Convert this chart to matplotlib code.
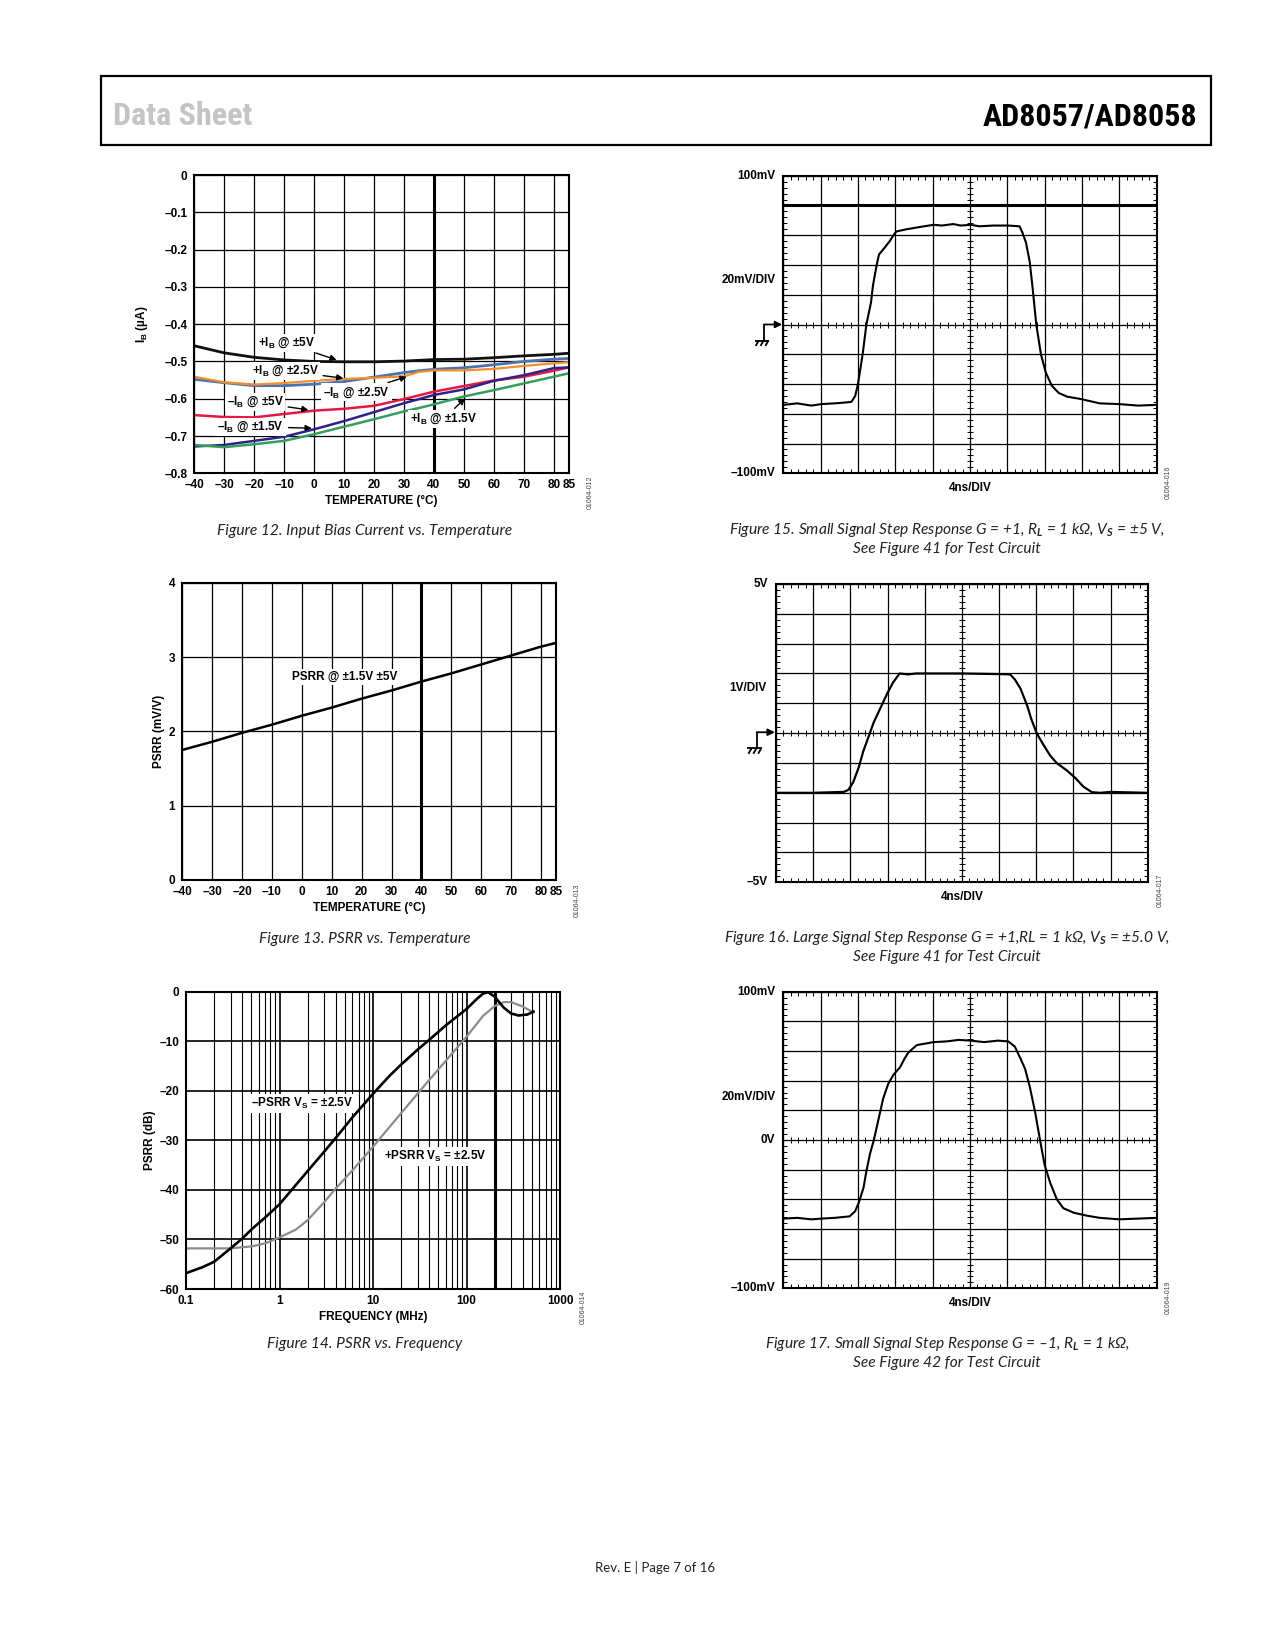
import numpy as np
import matplotlib
matplotlib.use("Agg")
import matplotlib.pyplot as plt
from matplotlib.ticker import LogLocator, NullFormatter, FixedLocator
from matplotlib.patches import Rectangle

plt.rcParams['font.family'] = ['Liberation Sans', 'DejaVu Sans']
plt.rcParams['font.weight'] = 'bold'
plt.rcParams['axes.labelweight'] = 'bold'
plt.rcParams['mathtext.fontset'] = 'custom'
plt.rcParams['mathtext.rm'] = 'Liberation Sans:bold'
plt.rcParams['mathtext.bf'] = 'Liberation Sans:bold'
plt.rcParams['mathtext.it'] = 'Lato:italic'
plt.rcParams['mathtext.default'] = 'rm'

# ---------------- DATA ----------------
# Figure 12: Input bias current vs temperature
temp12 = [-40, -30, -20, -10, 0, 10, 20, 30, 35, 40, 50, 60, 70, 80, 85]
ib_plus_5 = [-0.458, -0.477, -0.489, -0.496, -0.500, -0.501, -0.501, -0.499, -0.497, -0.495, -0.494, -0.490, -0.485, -0.481, -0.478]
ib_blue_25 = [-0.548, -0.557, -0.565, -0.565, -0.561, -0.554, -0.542, -0.530, -0.525, -0.521, -0.517, -0.509, -0.500, -0.494, -0.492]
ib_orange_25 = [-0.541, -0.556, -0.562, -0.558, -0.552, -0.547, -0.544, -0.540, -0.528, -0.524, -0.524, -0.520, -0.512, -0.505, -0.502]
ib_minus_5 = [-0.644, -0.649, -0.650, -0.641, -0.632, -0.627, -0.619, -0.601, -0.591, -0.581, -0.566, -0.551, -0.541, -0.525, -0.516]
ib_minus_15 = [-0.728, -0.724, -0.713, -0.702, -0.682, -0.660, -0.636, -0.612, -0.601, -0.590, -0.575, -0.552, -0.537, -0.518, -0.516]
ib_plus_15 = [-0.724, -0.730, -0.722, -0.713, -0.695, -0.675, -0.655, -0.634, -0.625, -0.615, -0.594, -0.577, -0.559, -0.541, -0.532]
temp_ticks = [-40, -30, -20, -10, 0, 10, 20, 30, 40, 50, 60, 70, 80, 85]
temp_ticklabels = ['–40', '–30', '–20', '–10', '0', '10', '20', '30', '40', '50', '60', '70', '80', '85']
ib_ticks = [0, -0.1, -0.2, -0.3, -0.4, -0.5, -0.6, -0.7, -0.8]
ib_ticklabels = ['0', '–0.1', '–0.2', '–0.3', '–0.4', '–0.5', '–0.6', '–0.7', '–0.8']
ann12_text = ['+I$_B$ @ ±5V', '+I$_B$ @ ±2.5V', '–I$_B$ @ ±2.5V', '–I$_B$ @ ±5V', '–I$_B$ @ ±1.5V', '+I$_B$ @ ±1.5V']

# Figure 13: PSRR vs temperature
temp13 = [-40, -30, -20, -10, 0, 10, 20, 30, 40, 50, 60, 70, 80, 85]
psrr13 = [1.75, 1.86, 1.98, 2.09, 2.21, 2.32, 2.44, 2.55, 2.67, 2.78, 2.90, 3.02, 3.14, 3.19]
psrr13_ticks = [0, 1, 2, 3, 4]

# Figure 14: PSRR vs frequency
freq_neg = [0.1, 0.15, 0.2, 0.3, 0.4, 0.5, 0.7, 1, 2, 3, 4, 6, 10, 15, 20, 30, 40, 60, 100, 130, 150, 170, 200, 250, 300, 360, 450, 520]
psrr_neg = [-56.8, -55.6, -54.5, -51.8, -49.8, -48.0, -45.6, -42.9, -36.2, -32.3, -29.5, -25.4, -20.6, -17.0, -14.7, -11.7, -9.7, -6.8, -3.5, -1.4, -0.4, -0.1, -1.0, -3.2, -4.4, -4.8, -4.6, -4.0]
freq_pos = [0.1, 0.2, 0.3, 0.5, 0.7, 1, 1.5, 2, 3, 4, 6, 10, 20, 40, 100, 150, 200, 250, 300, 400, 520]
psrr_pos = [-51.8, -51.8, -51.8, -51.4, -50.8, -49.6, -48.0, -46.1, -42.5, -39.7, -36.1, -31.3, -24.5, -17.8, -9.1, -4.9, -2.9, -2.1, -2.1, -3.0, -4.2]
freq_ticks = [0.1, 1, 10, 100, 1000]
freq_ticklabels = ['0.1', '1', '10', '100', '1000']
db_ticks = [0, -10, -20, -30, -40, -50, -60]
db_ticklabels = ['0', '–10', '–20', '–30', '–40', '–50', '–60']

# Figure 15: small signal step, G=+1 (ns, mV)
t15 = [0, 1.5, 3, 4.1, 5.5, 6.5, 7.3, 7.7, 8.0, 8.5, 8.9, 9.4, 9.6, 10.0, 10.25, 10.9, 11.4, 11.8, 12.1, 13.2, 14.6, 16.1,
       17.0, 18.2, 19.0, 20.1, 21.0, 22.5, 24.1, 25.3, 25.6, 26.0, 26.4, 26.7, 27.1, 27.6, 28.1, 28.75, 29.5, 30.4, 31.8,
       33.9, 36.0, 38.0, 40.0]
v15 = [-54, -53, -54.5, -53.5, -53, -52.5, -52, -48, -40, -20, 0, 15, 26, 40, 47, 52, 56, 60, 62.5, 64, 65.5, 67,
       66.5, 67.5, 66.5, 67, 66, 66.5, 66.5, 66, 62, 55, 42, 25, 0, -20, -32, -41, -46, -48.5, -50,
       -53, -53.5, -54.5, -54]

# Figure 16: large signal step (ns, V)
t16 = [0, 3.95, 7.3, 7.8, 8.3, 8.9, 9.4, 10.1, 10.5, 11.4, 12.0, 12.6, 13.3, 14.2, 15.1, 20.05, 24.0, 25.2, 25.7,
       26.3, 27.0, 27.5, 28.05, 28.8, 29.5, 30.2, 31.3, 32.2, 33.1, 34.0, 34.9, 36.0, 40.0]
v16 = [-2.0, -2.0, -1.97, -1.9, -1.65, -1.15, -0.6, 0.0, 0.35, 0.95, 1.35, 1.7, 2.0, 1.97, 2.0, 2.0, 1.98, 1.97, 1.8,
       1.5, 0.95, 0.45, 0.0, -0.4, -0.75, -1.0, -1.25, -1.5, -1.8, -1.98, -2.0, -1.97, -2.0]

# Figure 17: small signal step, G=-1 (ns, mV)
t17 = [0, 1.5, 3, 4.1, 5.5, 7.1, 7.7, 8.1, 8.6, 8.9, 9.3, 9.7, 10.2, 10.7, 11.25, 11.8, 12.5, 13.0, 13.4, 14.3, 16.1,
       17.5, 18.8, 20.1, 21.5, 23.0, 24.1, 24.8, 25.4, 25.9, 26.4, 27.0, 27.5, 28.0, 28.6, 29.3, 30.0, 31.1, 32.5, 33.9,
       36.0, 38.0, 40.0]
v17 = [-53, -52.5, -53.5, -53, -52.5, -51.5, -48, -42, -32, -21, -9, 0, 14, 28, 38, 44, 49, 55, 59, 64, 66,
       66.5, 67.5, 67, 66, 67, 66.5, 63, 55, 48, 36, 18, 0, -17, -29, -40, -46, -49, -51, -52.5,
       -53.5, -53, -52.5]

# ---------------- FIGURE ----------------
W, H = 1275, 1650
fig = plt.figure(figsize=(W / 100, H / 100), dpi=100)


def fx(px):
    return px / W


def fy(py):
    return 1 - py / H


def add_axes(x0, y0, x1, y1):
    return fig.add_axes([fx(x0), fy(y1), fx(x1 - x0), (y1 - y0) / H])


TICKFS = 8.5
GRID_LW = 0.9


def frame(ax):
    for s in ax.spines.values():
        s.set_linewidth(1.5)
        s.set_color('k')
        s.set_zorder(5)


# header
fig.patches.append(Rectangle((fx(100.7), fy(145)), fx(1211 - 100.7), 69 / H, transform=fig.transFigure,
                             fill=False, lw=1.6, ec='k'))
HEADFONT = dict(family=['Roboto Condensed', 'Liberation Sans Narrow', 'DejaVu Sans'], fontstretch='condensed',
                fontweight='bold', fontsize=23, va='baseline')
fig.text(fx(113), fy(125), 'Data Sheet', color='#c4c4c4', ha='left', **HEADFONT)
fig.text(fx(1197), fy(125), 'AD8057/AD8058', color='k', ha='right', **HEADFONT)

CAPFONT = dict(family=['Lato', 'DejaVu Sans'], style='italic', fontweight='normal', fontsize=11.2, color='#222222')


def caption(x, y, s):
    fig.text(fx(x), fy(y), s, ha='center', va='center', **CAPFONT)


def code(x, y, s):
    fig.text(fx(x), fy(y), s, rotation=90, fontsize=5, fontweight='normal', color='#444444', ha='center', va='center')


LABEL_BOX = dict(boxstyle='square,pad=0.15', fc='white', ec='none')

# ---------- Figure 12 ----------
ax = add_axes(194.3, 175, 568.7, 473.3)
ax.set_xlim(-40, 85)
ax.set_ylim(-0.8, 0)
ax.set_xticks(temp_ticks)
ax.set_xticklabels(temp_ticklabels)
ax.set_yticks(ib_ticks)
ax.set_yticklabels(ib_ticklabels)
ax.grid(True, color='k', lw=GRID_LW)
ax.axvline(40, color='k', lw=2.2, zorder=1)
ax.tick_params(length=0, labelsize=TICKFS, pad=5)
ax.tick_params(axis='x', pad=4)
frame(ax)
ax.plot(temp12, ib_plus_5, color='#111111', lw=2.0, zorder=3)
ax.plot(temp12, ib_blue_25, color='#4c72b0', lw=2.0, zorder=3)
ax.plot(temp12, ib_orange_25, color='#f28e2b', lw=1.6, zorder=3)
ax.plot(temp12, ib_minus_5, color='#e8173f', lw=1.8, zorder=3)
ax.plot(temp12, ib_minus_15, color='#33218a', lw=1.8, zorder=3)
ax.plot(temp12, ib_plus_15, color='#339e5c', lw=1.8, zorder=3)
ann12_xytext = [(-9.2, -0.451), (-9.7, -0.525), (14.2, -0.583), (-19.7, -0.609), (-21.2, -0.675), (43.1, -0.655)]
ann12_xy = [(7.5, -0.496), (9.75, -0.545), (30.9, -0.541), (-1.9, -0.630), (-0.8, -0.679), (50.4, -0.599)]
for s, xt, xy in zip(ann12_text, ann12_xytext, ann12_xy):
    ax.annotate(s, xy=xy, xytext=xt, ha='center', va='center', fontsize=TICKFS, zorder=6, bbox=LABEL_BOX,
                arrowprops=dict(arrowstyle='-|>', color='k', lw=1.0, mutation_scale=9, shrinkA=2, shrinkB=0))
ax.set_xlabel('TEMPERATURE (°C)', fontsize=TICKFS, labelpad=3)
ax.set_ylabel('I$_B$ (µA)', fontsize=TICKFS, labelpad=10)
caption(365, 531, 'Figure 12. Input Bias Current vs. Temperature')
code(590, 492, '01064-012')

# ---------- Figure 13 ----------
ax = add_axes(182.3, 582.7, 556, 880)
ax.set_xlim(-40, 85)
ax.set_ylim(0, 4)
ax.set_xticks(temp_ticks)
ax.set_xticklabels(temp_ticklabels)
ax.set_yticks(psrr13_ticks)
ax.grid(True, color='k', lw=GRID_LW)
ax.axvline(40, color='k', lw=2.2, zorder=1)
ax.tick_params(length=0, labelsize=TICKFS, pad=5)
ax.tick_params(axis='x', pad=4)
frame(ax)
ax.plot(temp13, psrr13, color='k', lw=1.8, zorder=3)
ax.text(14.4, 2.73, 'PSRR @ ±1.5V ±5V', ha='center', va='center', fontsize=TICKFS, zorder=6, bbox=LABEL_BOX)
ax.set_xlabel('TEMPERATURE (°C)', fontsize=TICKFS, labelpad=3)
ax.set_ylabel('PSRR (mV/V)', fontsize=TICKFS, labelpad=3)
caption(365, 939, 'Figure 13. PSRR vs. Temperature')
code(577, 900, '01064-013')

# ---------- Figure 14 ----------
ax = add_axes(186, 991.7, 560, 1289)
ax.set_xscale('log')
ax.set_xlim(0.1, 1000)
ax.set_ylim(-60, 0)
ax.xaxis.set_major_locator(FixedLocator(freq_ticks))
ax.set_xticklabels(freq_ticklabels)
ax.xaxis.set_minor_locator(LogLocator(base=10, subs=np.arange(2, 10)))
ax.xaxis.set_minor_formatter(NullFormatter())
ax.set_yticks(db_ticks)
ax.set_yticklabels(db_ticklabels)
ax.grid(True, which='minor', axis='x', color='k', lw=0.8)
ax.grid(True, which='major', color='k', lw=1.2)
ax.axvline(200, color='k', lw=2.2, zorder=1)
ax.tick_params(which='both', length=0, labelsize=TICKFS, pad=5)
ax.tick_params(axis='x', pad=4)
frame(ax)
ax.plot(freq_pos, psrr_pos, color='#8c8c8c', lw=1.6, zorder=3)
ax.plot(freq_neg, psrr_neg, color='k', lw=1.9, zorder=4)
ax.text(1.73, -22.5, '–PSRR V$_S$ = ±2.5V', ha='center', va='center', fontsize=TICKFS, zorder=6, bbox=LABEL_BOX)
ax.text(46, -33.3, '+PSRR V$_S$ = ±2.5V', ha='center', va='center', fontsize=TICKFS, zorder=6, bbox=LABEL_BOX)
ax.set_xlabel('FREQUENCY (MHz)', fontsize=TICKFS, labelpad=3)
ax.set_ylabel('PSRR (dB)', fontsize=TICKFS, labelpad=2)
caption(365, 1344, 'Figure 14. PSRR vs. Frequency')
code(583, 1307, '01064-014')


# ---------- scope helpers ----------
def scope(ax, ylo, yhi):
    ax.set_xlim(0, 40)
    ax.set_ylim(ylo, yhi)
    ax.set_xticks(np.arange(0, 40.01, 4))
    ax.set_yticks(np.linspace(ylo, yhi, 11))
    ax.set_xticks(np.arange(0, 40.01, 0.8), minor=True)
    ax.set_yticks(np.linspace(ylo, yhi, 51), minor=True)
    ax.grid(True, which='major', color='k', lw=GRID_LW)
    ax.tick_params(which='major', length=0, labelleft=False, labelbottom=False)
    ax.tick_params(which='minor', direction='in', length=3, width=0.7, top=True, right=True,
                   labelleft=False, labelbottom=False)
    frame(ax)
    ym = np.linspace(ylo, yhi, 51)
    xm = np.arange(0, 40.01, 0.8)
    ax.plot(np.full(len(ym), 20.0), ym, ls='none', marker='_', ms=4, mew=0.7, color='k', zorder=2)
    ax.plot(xm, np.full(len(xm), (ylo + yhi) / 2), ls='none', marker='|', ms=4, mew=0.7, color='k', zorder=2)


def ax_label(ax, x, y, s, ha='right'):
    ax.text(x, y, s, transform=ax.transAxes, ha=ha, va='center', fontsize=TICKFS, fontweight='bold', clip_on=False)


def ground(ax, y0):
    kw = dict(transform=ax.transAxes, color='k', lw=1.3, clip_on=False, solid_capstyle='butt')
    ax.annotate('', xy=(-0.003, y0), xytext=(-0.052, y0), xycoords='axes fraction',
                arrowprops=dict(arrowstyle='-|>', color='k', lw=1.3, mutation_scale=10, shrinkA=0, shrinkB=0),
                annotation_clip=False)
    yb = y0 - 0.054
    ax.plot([-0.051, -0.051], [y0, yb], **kw)
    ax.plot([-0.077, -0.037], [yb, yb], **kw)
    for xx in (-0.066, -0.053, -0.040):
        ax.plot([xx, xx - 0.008], [yb, yb - 0.018], **kw)


# ---------- Figure 15 ----------
ax = add_axes(783.3, 175.7, 1156.7, 473.3)
scope(ax, -100, 100)
ax.axhline(80, color='k', lw=2.2, zorder=2)
ax.plot(t15, v15, color='k', lw=1.5, zorder=4)
ax_label(ax, -0.02, 1.0, '100mV')
ax_label(ax, -0.02, 0.649, '20mV/DIV')
ax_label(ax, -0.022, 0.0, '–100mV')
ax_label(ax, 0.5, -0.05, '4ns/DIV', ha='center')
ground(ax, 0.5)
caption(947, 530, r'Figure 15. Small Signal Step Response G = +1, R$_{\mathit{L}}$ = 1 kΩ, V$_{\mathit{S}}$ = ±5 V,')
caption(947, 549, 'See Figure 41 for Test Circuit')
code(1168, 482, '01064-016')

# ---------- Figure 16 ----------
ax = add_axes(776, 584, 1147.7, 882.3)
scope(ax, -5, 5)
ax.plot(t16, v16, color='k', lw=1.6, zorder=4)
ax_label(ax, -0.021, 1.0, '5V')
ax_label(ax, -0.025, 0.650, '1V/DIV')
ax_label(ax, -0.021, 0.0, '–5V')
ax_label(ax, 0.501, -0.048, '4ns/DIV', ha='center')
ground(ax, 0.503)
caption(947, 938, r'Figure 16. Large Signal Step Response G = +1,RL = 1 kΩ, V$_{\mathit{S}}$ = ±5.0 V,')
caption(947, 957, 'See Figure 41 for Test Circuit')
code(1160, 890, '01064-017')

# ---------- Figure 17 ----------
ax = add_axes(783.3, 991.7, 1156.7, 1288.3)
scope(ax, -100, 100)
ax.plot(t17, v17, color='k', lw=1.5, zorder=4)
ax_label(ax, -0.022, 1.0, '100mV')
ax_label(ax, -0.020, 0.646, '20mV/DIV')
ax_label(ax, -0.021, 0.5, '0V')
ax_label(ax, -0.022, 0.0, '–100mV')
ax_label(ax, 0.5, -0.051, '4ns/DIV', ha='center')
caption(947, 1344, r'Figure 17. Small Signal Step Response G = –1, R$_{\mathit{L}}$ = 1 kΩ,')
caption(947, 1363, 'See Figure 42 for Test Circuit')
code(1168, 1297, '01064-019')

# footer
fig.text(fx(655), fy(1567), 'Rev. E | Page 7 of 16', ha='center', va='center', fontsize=9.5,
         family=['Lato', 'DejaVu Sans'], fontweight='normal', color='#222222')

fig.savefig('out.png', dpi=100)
